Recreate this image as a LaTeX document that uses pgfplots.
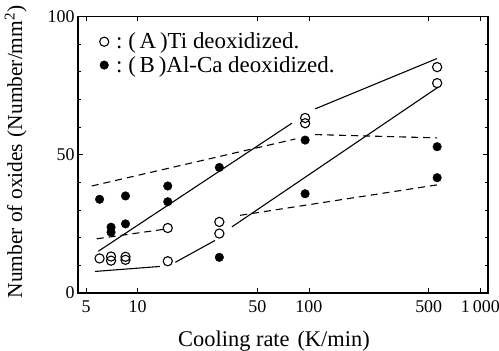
\documentclass[border=0pt]{standalone}
\usepackage{fontspec}
\setmainfont{Liberation Serif}
\usepackage{pgfplots}
\pgfplotsset{compat=1.18}
\begin{document}
\begin{tikzpicture}
\begin{axis}[
  at={(0,0)}, anchor=south west,
  scale only axis, width=410bp, height=276.5bp,
  xmode=log, xmin=4.49, xmax=1109, ymin=0, ymax=100,
  xtick={5,10,50,100,500,1000}, xticklabels={5,10,50,100,500,1\,000},
  minor xtick={},
  ytick={0,50,100}, yticklabels={0,50,100},
  minor ytick={10,20,30,40,60,70,80,90},
  tick style={black, line width=0.8pt}, major tick length=5bp, minor tick length=3bp,
  axis line style={line width=1.2pt},
  tick label style={font=\fontsize{18}{20}\selectfont},
  xticklabel style={yshift=-4bp},
  xlabel={Cooling rate\hspace{0.35em}(K/min)},
  ylabel={Number of oxides\hspace{0.3em}(Number/mm\textsuperscript{2})},
  xlabel style={at={(axis description cs:0.478,-0.175)}, anchor=center, font=\fontsize{22.5}{25}\selectfont},
  ylabel style={at={(axis description cs:-0.152,0.51)}, anchor=center, font=\fontsize{21.5}{24}\selectfont},
  legend style={at={(axis description cs:0.045,0.95)}, anchor=north west, draw=none, fill=none,
    font=\fontsize{23}{26}\selectfont, row sep=5pt, nodes={inner sep=0.5pt}},
  legend cell align=left,
]
\addplot[only marks, mark=o, mark size=4.6bp, mark options={line width=1.1pt, black}] coordinates {
(6,12.5) (7,13.2) (7,11.7) (8.5,13.1) (8.5,12.0) (15,11.5) (15,23.5) (30,25.7) (30,21.5)
(95,63.3) (95,61.4) (560,81.7) (560,75.9)};
\addlegendentry{\hspace{0.3em}:\hspace{0.25em}(\,A\,)Ti deoxidized.}
\addplot[only marks, mark=*, mark size=4.3bp, mark options={black, fill=black}] coordinates {
(6,33.9) (7,23.8) (7,22) (8.5,35.1) (8.5,25) (15,38.7) (15,33) (30,12.9) (30,45.4)
(95,55.3) (95,35.9) (560,52.9) (560,41.7)};
\addlegendentry{\hspace{0.3em}:\hspace{0.25em}(\,B\,)Al-Ca deoxidized.}
% solid lines
\addplot[black, line width=1.1pt, forget plot] coordinates {(5.9,15.1) (79.5,61.4)};
\addplot[black, line width=1.1pt, forget plot] coordinates {(108.8,66.6) (559,84.8)};
\addplot[black, line width=1.1pt, forget plot] coordinates {(5.65,7.8) (13.5,9.6)};
\addplot[black, line width=1.1pt, forget plot] coordinates {(16.6,11.1) (28.3,19.0)};
\addplot[black, line width=1.1pt, forget plot] coordinates {(35.5,23.9) (569,74.5)};
% dashed lines
\addplot[black, line width=1.1pt, dash pattern=on 7bp off 5bp, forget plot] coordinates {(5.4,38.7) (83.2,55.7)};
\addplot[black, line width=1.1pt, dash pattern=on 7bp off 5bp, forget plot] coordinates {(108.8,57.3) (559,56.1)};
\addplot[black, line width=1.1pt, dash pattern=on 7bp off 5bp, forget plot] coordinates {(5.78,19.6) (14.1,23.0)};
\addplot[black, line width=1.1pt, dash pattern=on 7bp off 5bp, forget plot] coordinates {(39.7,28.1) (559,39.1)};
\end{axis}
\pgfresetboundingbox
\useasboundingbox (-78bp,-58bp) rectangle (421bp,293bp);
\end{tikzpicture}
\end{document}
